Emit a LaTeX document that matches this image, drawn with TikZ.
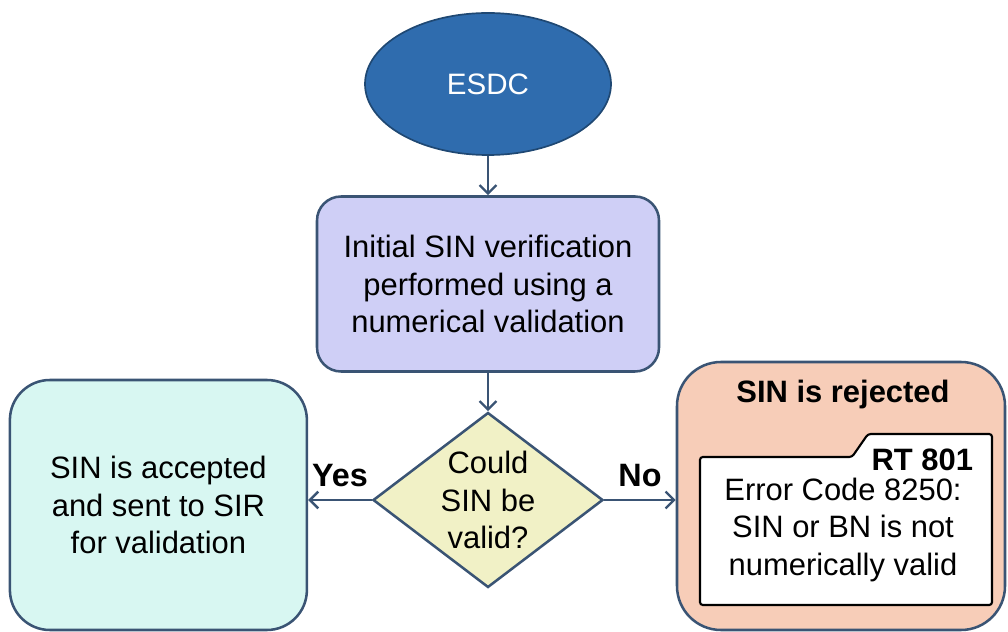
\documentclass[tikz,border=0pt]{standalone}
\usepackage{fontspec}
\setmainfont{Liberation Sans}
\usepackage{xcolor}
\usepackage{tikz}
\usetikzlibrary{shapes.geometric, arrows.meta, positioning, calc}
\definecolor{sinblue}{HTML}{2F6CAE}
\definecolor{sinnavy}{HTML}{1F4873}
\definecolor{sinborder}{HTML}{3A5474}
\definecolor{sinlavender}{HTML}{CFCFF6}
\definecolor{sinyellow}{HTML}{F1F1C6}
\definecolor{sincyan}{HTML}{D8F7F2}
\definecolor{sinpeach}{HTML}{F7CDB8}
\tikzset{
    flowbox/.style={draw=sinborder, line width=1.8pt, align=center, font=\fontsize{22}{26.5}\selectfont},
    flowarrow/.style={-{Straight Barb[length=6pt,width=12pt]}, draw=sinborder, line width=1.7pt},
    flowlabel/.style={font=\fontsize{23}{26}\selectfont\bfseries, above=5pt, midway}
}

\begin{document}
\begin{tikzpicture}
    \useasboundingbox (0,0) rectangle (25.2,-15.8);

    % Top
    \node[ellipse, fill=sinblue, draw=sinnavy, line width=1.2pt, text=white, font=\fontsize{21}{26}\selectfont, minimum width=6.15cm, minimum height=3.55cm] (esdc) at (12.2,-2.1) {ESDC};
    \node[flowbox, fill=sinlavender, rounded corners=0.6cm, minimum width=8.55cm, minimum height=4.375cm] (initial) at (12.2,-7.1) {Initial SIN verification\\performed using a\\numerical validation};

    % Decision
    \node[flowbox, diamond, aspect=1.31, inner sep=0pt, fill=sinyellow, minimum width=5.75cm, minimum height=4.375cm] (valid) at (12.2,-12.5) {Could\\SIN be\\valid?};

    \node[flowbox, fill=sincyan, rounded corners=1cm, minimum width=7.425cm, minimum height=6.25cm] (accepted) at (3.96,-12.625) {SIN is accepted\\and sent to SIR\\for validation};
    \node[flowbox, fill=sinpeach, rounded corners=1.1cm, minimum width=8.2cm, minimum height=6.7cm] (rejected) at (21.025,-12.4) {};
    \node[font=\fontsize{22}{26}\selectfont\bfseries] (rejtitle) at (21.075,-9.875) {SIN is rejected};

    % Error code frame
    \coordinate (errsw) at (17.5,-15.125);
    \coordinate (errne) at (24.8,-10.85);
    \draw[line width=1.5pt, fill=white, rounded corners=2pt] (errsw) -- (17.5,-11.425) -- (21.3,-11.425) -- (21.7,-10.85) -- (errne) -- (errne |- errsw) -- cycle;
    \node[font=\fontsize{22}{26}\selectfont\bfseries, anchor=east] (rtcode) at (24.45,-11.5) {RT 801};
    \node[align=center, font=\fontsize{22}{26.5}\selectfont] (errtext) at (21.075,-13.25) {Error Code 8250:\\SIN or BN is not\\numerically valid};

    % Arrows
    \draw[flowarrow] (esdc.south) -- (initial.north);
    \draw[flowarrow] (initial.south) -- (valid.north);
    \draw[flowarrow] (valid.west) -- node[flowlabel] {Yes} (accepted.east |- valid.west);
    \draw[flowarrow] (valid.east) -- node[flowlabel] {No} (rejected.west |- valid.east);
\end{tikzpicture}
\end{document}
